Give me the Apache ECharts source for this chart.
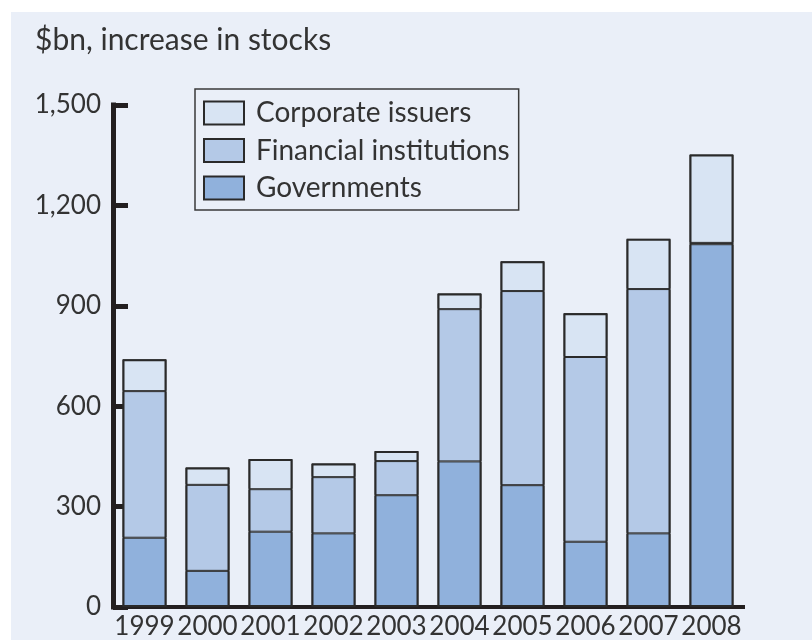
<!DOCTYPE html>
<html>
<head>
<meta charset="utf-8">
<script src="https://cdn.jsdelivr.net/npm/echarts@6/dist/echarts.min.js"></script>
<style>
  html, body { margin: 0; padding: 0; background: #ffffff; }
  #chart { width: 812px; height: 640px; }
</style>
</head>
<body>
<div id="chart"></div>
<script>
// Increase in outstanding debt stocks by issuer type, $bn
const years = ['1999', '2000', '2001', '2002', '2003', '2004', '2005', '2006', '2007', '2008'];
const governments = [207, 108, 225, 220, 334, 435, 364, 195, 220, 1084];
const financialInstitutions = [438, 257, 127, 168, 102, 455, 580, 552, 730, 4];
const corporateIssuers = [95, 52, 90, 41, 30, 47, 89, 131, 150, 264];
const yTicks = { min: 0, max: 1500, interval: 300 };

const FONT = 'Lato';
const INK = '#231f20';
const EDGE = '#2a2a2a';
const PANEL = '#eaeff8';
const BAR_W = 44;

// Column totals, used only for the heavier outer frame of each stacked column
const totals = years.map((_, i) => governments[i] + financialInstitutions[i] + corporateIssuers[i]);

const chart = echarts.init(document.getElementById('chart'), null, { renderer: 'canvas' });

function barSeries(name, data, color) {
  return {
    name: name,
    type: 'bar',
    stack: 'total',
    data: data,
    barWidth: BAR_W,
    barGap: '-100%',
    itemStyle: { color: color, borderColor: EDGE, borderWidth: 1 },
    emphasis: { disabled: true }
  };
}

chart.setOption({
  animation: false,
  backgroundColor: '#ffffff',
  graphic: [{
    type: 'rect',
    left: 11, top: 12,
    shape: { width: 801, height: 628 },
    style: { fill: PANEL },
    z: -10
  }],
  title: {
    text: '$bn, increase in stocks',
    left: 30, top: 20,
    textStyle: { fontFamily: FONT, fontSize: 30, fontWeight: 'normal', color: '#333333' }
  },
  legend: {
    orient: 'vertical',
    left: 195, top: 89,
    padding: [10, 9, 8, 8],
    itemGap: 9.5,
    itemWidth: 40,
    itemHeight: 23,
    borderColor: '#3a3a3a',
    borderWidth: 1.5,
    icon: 'rect',
    selectedMode: false,
    data: ['Corporate issuers', 'Financial institutions', 'Governments'],
    itemStyle: { borderColor: EDGE, borderWidth: 2 },
    textStyle: { fontFamily: FONT, fontSize: 28, color: '#333333', lineHeight: 23, padding: [0, 0, 0, 7] }
  },
  grid: { left: 113, right: 69, top: 105, bottom: 33, containLabel: false },
  xAxis: {
    type: 'category',
    data: years,
    boundaryGap: true,
    axisLine: { lineStyle: { color: INK, width: 4, cap: 'square' } },
    axisTick: { inside: true, length: 13, lineStyle: { color: INK, width: 6 } },
    axisLabel: { fontFamily: FONT, fontSize: 26, color: '#333333', margin: 7, interval: 0 }
  },
  yAxis: {
    type: 'value',
    min: yTicks.min, max: yTicks.max, interval: yTicks.interval,
    splitLine: { show: false },
    axisLine: { show: true, lineStyle: { color: INK, width: 5, cap: 'square' } },
    axisTick: { show: true, inside: true, length: 15, lineStyle: { color: INK, width: 5 } },
    axisLabel: {
      fontFamily: FONT, fontSize: 26, color: '#333333', margin: 12,
      formatter: v => v.toLocaleString('en-US')
    }
  },
  series: [
    barSeries('Governments', governments, '#90b1dc'),
    barSeries('Financial institutions', financialInstitutions, '#b4c9e7'),
    barSeries('Corporate issuers', corporateIssuers, '#d8e4f3'),
    {
      name: 'frame',
      type: 'bar',
      data: totals,
      barWidth: BAR_W,
      barGap: '-100%',
      z: 3,
      silent: true,
      itemStyle: { color: 'rgba(0,0,0,0)', borderColor: EDGE, borderWidth: 2 },
      emphasis: { disabled: true }
    }
  ]
});
</script>
</body>
</html>
